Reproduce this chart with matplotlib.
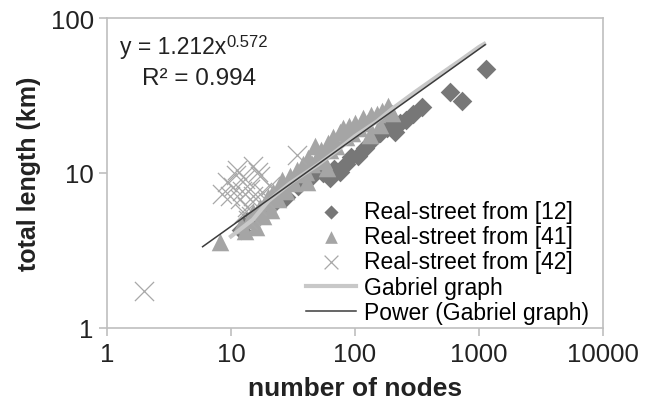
import numpy as np
import matplotlib.pyplot as plt

plt.rcParams['font.family'] = ['Liberation Sans', 'DejaVu Sans']

# Real-street from [12] (diamonds)
diam_x = [12, 13.5, 15, 18, 22, 28, 35, 45, 55, 63, 68, 75, 85, 92, 105, 120,
          140, 160, 180, 195, 210, 230, 260, 295, 345, 585, 730, 1140]
diam_y = [4.3, 4.9, 5.0, 5.5, 6.3, 7.0, 8.3, 9.5, 10.0, 9.3, 10.6, 10.2, 11.5,
          12.7, 12.8, 14.5, 16.5, 18.0, 19.5, 20.1, 18.5, 21.0, 22.0, 24.0,
          26.7, 33.3, 29.2, 46.9]

# Real-street from [41] (triangles)
tri_x = [8.2, 12, 13, 14, 15, 16, 17, 18, 19, 20, 21, 22, 24, 25, 26, 28, 30,
         32, 34, 36, 38, 40, 41, 42, 45, 48, 50, 53, 56, 59, 60, 63, 67, 70, 75,
         80, 85, 90, 95, 100, 108, 115, 125, 133, 135, 150, 159, 165, 185, 200]
tri_y = [3.6, 4.6, 4.2, 5.0, 5.6, 4.5, 6.0, 5.3, 6.5, 7.0, 5.8, 7.5, 6.8, 8.2,
         9.0, 7.6, 9.5, 8.6, 10.5, 9.8, 11.5, 10.2, 8.8, 12.5, 11.5, 15.0, 12.8,
         14.0, 12.0, 10.8, 15.5, 14.0, 17.0, 15.0, 18.5, 19.5, 17.0, 20.0, 18.0,
         21.0, 19.5, 22.5, 21.0, 17.5, 23.5, 24.0, 20.5, 25.0, 27.0, 24.5]

# Real-street from [42] (crosses)
crs_x = [2.0, 8.4, 9.3, 9.8, 10.4, 11.0, 11.8, 12.3, 12.7, 13.0, 13.5, 14.2,
         15.0, 15.0, 16.2, 17.1, 17.8, 19.5, 20.6, 34, 11.2, 14.5, 16.5, 13.8]
crs_y = [1.73, 7.3, 8.8, 7.1, 8.1, 9.7, 6.8, 7.6, 5.5, 9.15, 6.0, 7.9, 11.1,
         7.1, 6.1, 9.6, 7.5, 6.6, 8.2, 13.0, 10.5, 5.3, 10.2, 5.0]

# Gabriel graph
gab_x = [10, 15, 20, 30, 50, 70, 100, 150, 200, 300, 500, 700, 1000, 1100]
gab_y = [3.9, 5.0, 6.6, 8.6, 11.3, 13.8, 17.3, 21.5, 26.0, 33.0, 44.0, 53.0,
         65.0, 68.0]

# power trendline shown on chart
fit_a, fit_b = 1.212, 0.572
fit_range = (5.9, 1120)

fig = plt.figure(figsize=(6.51, 4.06), dpi=100)
ax = fig.add_axes([0.1644, 0.1897, 0.7619, 0.7635])

ax.scatter(diam_x, diam_y, marker='D', s=100, color='#777777', lw=0,
           label='Real-street from [12]', zorder=2)
ax.scatter(tri_x, tri_y, marker='^', s=160, color='#a5a5a5', lw=0,
           label='Real-street from [41]', zorder=3)
ax.scatter(crs_x, crs_y, marker='x', s=190, color='#a8a8a8', lw=0.9,
           label='Real-street from [42]', zorder=4)
ax.plot(gab_x, gab_y, color='#c8c8c8', lw=3, label='Gabriel graph', zorder=5)
fx = np.geomspace(*fit_range, 60)
ax.plot(fx, fit_a * fx ** fit_b, color='#3c3c3c', lw=1.1,
        label='Power (Gabriel graph)', zorder=6)

ax.set_xscale('log')
ax.set_yscale('log')
ax.set_xlim(1, 10000)
ax.set_ylim(1, 100)
ax.set_xticks([1, 10, 100, 1000, 10000])
ax.set_xticklabels(['1', '10', '100', '1000', '10000'])
ax.set_yticks([1, 10, 100])
ax.set_yticklabels(['1', '10', '100'])
ax.minorticks_off()
ax.tick_params(labelsize=18.5, color='#bfbfbf', length=6, width=1.2,
               labelcolor='#222222')
ax.tick_params(axis='x', pad=4)
for s in ax.spines.values():
    s.set_color('#bfbfbf')
    s.set_linewidth(1.2)

ax.set_xlabel('number of nodes', fontsize=19, fontweight='bold', color='#222222',
              labelpad=7)
ax.set_ylabel('total length (km)', fontsize=18, fontweight='bold', color='#222222',
              labelpad=7)

eq = ax.text(0.026, 0.888, 'y = 1.212x', transform=ax.transAxes,
             fontsize=16.5, va='baseline', color='#222222')
ax.annotate('0.572', xy=(1, 1.02), xycoords=eq, fontsize=12, ha='left',
            va='top', color='#222222', xytext=(0.5, 0), textcoords='offset points')
ax.text(0.071, 0.786, 'R² = 0.994', transform=ax.transAxes,
        fontsize=17.5, va='baseline', color='#222222')

ax.legend(loc='lower right', bbox_to_anchor=(1.0, -0.031), frameon=False,
          fontsize=16.5, handlelength=2.2, handletextpad=0.35, labelspacing=0.1,
          borderaxespad=0.2, scatterpoints=1, markerscale=0.72)

fig.savefig('out.png', dpi=100)
